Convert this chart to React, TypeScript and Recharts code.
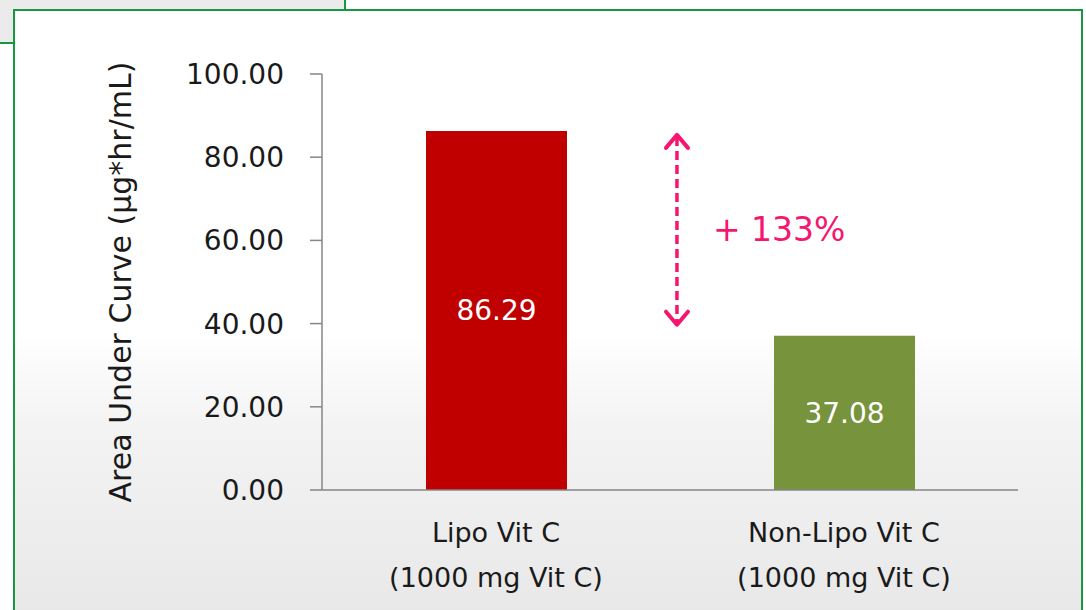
import { BarChart, Bar, XAxis, YAxis, Cell, LabelList, ReferenceLine } from 'recharts'

const categories = ['Lipo Vit C', 'Non-Lipo Vit C']
const doseLabels = ['(1000 mg Vit C)', '(1000 mg Vit C)']
const slots = [0.5, 1.5]
const aucValues = [86.29, 37.08]
const barColors = ['#c00000', '#77933c']
const yTicks = [0, 20, 40, 60, 80, 100]

// annotation: dashed double arrow between the two bars
const arrowX = 1.02
const arrowTop = 85.6
const arrowBottom = 39.5
const increaseLabel = '+ 133%'

const data = categories.map((name, i) => ({ name, slot: slots[i], value: aucValues[i] }))

const FONT = '"DejaVu Sans", Verdana, sans-serif'
const PINK = '#f5166f'

function CategoryTick({ x, y, payload }: any) {
  const idx = slots.indexOf(payload.value)
  return (
    <g>
      <text x={x} y={y + 52} textAnchor="middle" fill="#1a1a1a" fontSize={27} fontFamily={FONT}>
        {categories[idx]}
      </text>
      <text x={x} y={y + 97} textAnchor="middle" fill="#1a1a1a" fontSize={27} fontFamily={FONT}>
        {doseLabels[idx]}
      </text>
    </g>
  )
}

function DoubleArrow(props: any) {
  const { x1, y1, y2 } = props
  const top = Math.min(y1, y2)
  const bottom = Math.max(y1, y2)
  const x = x1
  const midY = (top + bottom) / 2
  return (
    <g>
      <line x1={x} y1={top + 3} x2={x} y2={bottom - 3} stroke={PINK} strokeWidth={3.5} strokeDasharray="9 5" />
      <polyline points={`${x - 11},${top + 14} ${x},${top + 1} ${x + 11},${top + 14}`} fill="none" stroke={PINK} strokeWidth={4} strokeLinecap="round" strokeLinejoin="round" />
      <polyline points={`${x - 11},${bottom - 14} ${x},${bottom - 1} ${x + 11},${bottom - 14}`} fill="none" stroke={PINK} strokeWidth={4} strokeLinecap="round" strokeLinejoin="round" />
      <text x={x + 36} y={midY} dominantBaseline="central" fill={PINK} fontSize={33} fontFamily={FONT}>
        {increaseLabel}
      </text>
    </g>
  )
}

export default function App() {
  return (
    <div style={{ position: 'relative', width: 1086, height: 610, overflow: 'hidden', background: '#fff' }}>
      <style>{'body{margin:0}'}</style>
      {/* grey tab behind the panel */}
      <div
        style={{
          position: 'absolute', left: 0, top: 0, width: 344, height: 42,
          background: '#ebebeb', borderRight: '2px solid #16983c', borderBottom: '2px solid #16983c',
        }}
      />
      <div
        style={{
          position: 'absolute', left: 13, top: 9, width: 1066, height: 640,
          border: '2px solid #16983c',
          background: 'linear-gradient(to bottom, #ffffff 0%, #ffffff 50%, #f3f3f3 65%, #e6e6e6 100%)',
        }}
      />
      <div style={{ position: 'absolute', left: 0, top: 0 }}>
        <BarChart width={1086} height={610} data={data} margin={{ top: 74, right: 68, bottom: 20, left: 90 }}>
          <XAxis
            dataKey="slot"
            type="number"
            domain={[0, 2]}
            ticks={slots}
            height={100}
            axisLine={{ stroke: '#868686', strokeWidth: 1.5 }}
            tickLine={false}
            tickSize={0}
            tickMargin={0}
            tick={<CategoryTick />}
            interval={0}
          />
          <YAxis
            width={232}
            domain={[0, 100]}
            ticks={yTicks}
            interval={0}
            tickFormatter={(v: number) => v.toFixed(2)}
            axisLine={{ stroke: '#868686', strokeWidth: 1.5 }}
            tickLine={{ stroke: '#868686', strokeWidth: 1.5 }}
            tickSize={12}
            tickMargin={26}
            tick={{ fontSize: 28, fill: '#1a1a1a', fontFamily: FONT }}
            label={{
              value: 'Area Under Curve (µg*hr/mL)',
              angle: -90,
              position: 'insideLeft',
              offset: 30,
              fill: '#1a1a1a',
              fontSize: 30,
              fontFamily: FONT,
              style: { textAnchor: 'middle' },
            }}
          />
          <Bar dataKey="value" barSize={141} isAnimationActive={false}>
            {data.map((d, i) => (
              <Cell key={d.name} fill={barColors[i]} />
            ))}
            <LabelList
              dataKey="value"
              position="center"
              fill="#ffffff"
              fontSize={28}
              fontFamily={FONT}
              formatter={(v: any) => Number(v).toFixed(2)}
            />
          </Bar>
          <ReferenceLine
            ifOverflow="visible"
            segment={[{ x: arrowX, y: arrowTop }, { x: arrowX, y: arrowBottom }]}
            shape={<DoubleArrow />}
          />
        </BarChart>
      </div>
    </div>
  )
}
